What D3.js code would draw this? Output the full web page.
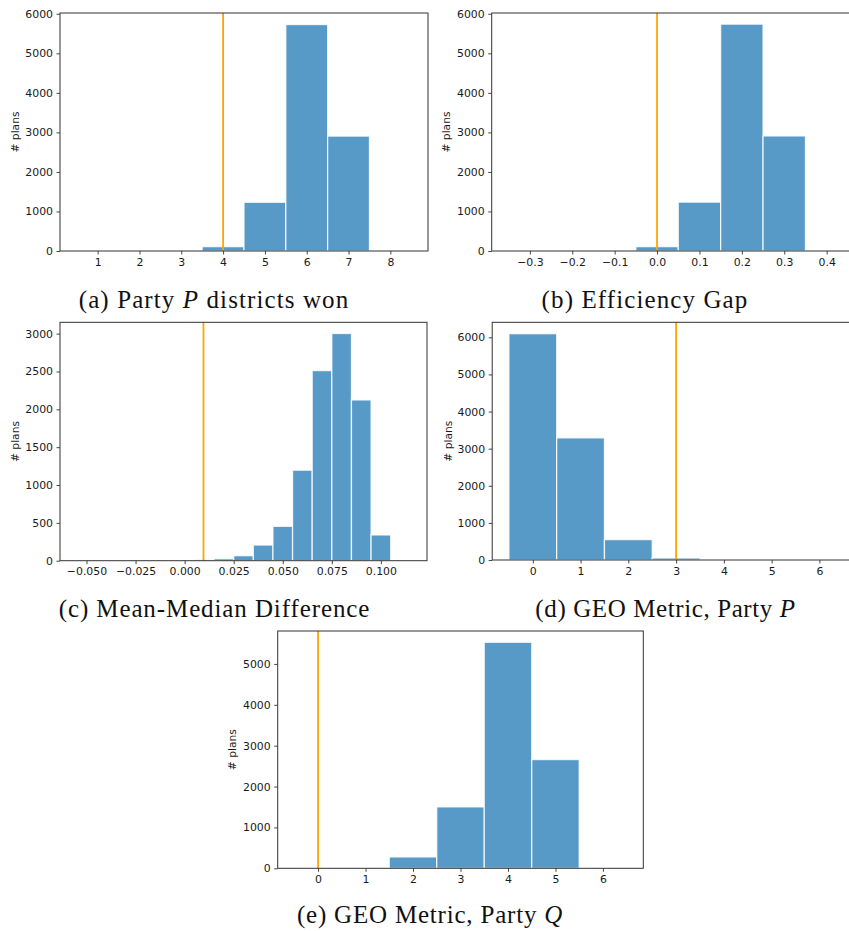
<!DOCTYPE html>
<html>
<head>
<meta charset="utf-8">
<script src="https://cdn.jsdelivr.net/npm/d3@7"></script>
<style>
  body { margin: 0; background: #fff; overflow: hidden; }
  svg { display: block; }
</style>
</head>
<body>
<div id="vis"></div>
<script>
// histogram values
var distBins = [1, 2, 3, 4, 5, 6, 7, 8];
var distCounts = [0, 0, 0, 110, 1232, 5728, 2906, 0];

var egBins = [-0.3, -0.2, -0.1, 0.0, 0.1, 0.2, 0.3, 0.4];
var egCounts = [0, 0, 0, 110, 1236, 5738, 2910, 0];

var mmBins = [-0.05, -0.04, -0.03, -0.02, -0.01, 0.00, 0.01, 0.02, 0.03, 0.04, 0.05, 0.06, 0.07, 0.08, 0.09, 0.10, 0.11];
var mmCounts = [0, 0, 0, 0, 0, 0, 13, 26, 66, 207, 454, 1196, 2512, 3002, 2124, 340, 0];

var geoPBins = [0, 1, 2, 3, 4, 5, 6];
var geoPCounts = [6098, 3290, 549, 54, 0, 0, 0];

var geoQBins = [0, 1, 2, 3, 4, 5, 6];
var geoQCounts = [0, 0, 278, 1502, 5530, 2660, 0];

var distTicks = [1, 2, 3, 4, 5, 6, 7, 8];
var egTicks = [-0.3, -0.2, -0.1, 0.0, 0.1, 0.2, 0.3, 0.4];
var mmTicks = [-0.05, -0.025, 0, 0.025, 0.05, 0.075, 0.1];
var geoTicks = [0, 1, 2, 3, 4, 5, 6];

var svg = d3.select("#vis").append("svg")
    .attr("width", 849)
    .attr("height", 931);

var minus = function(s) { return s.replace("-", "\u2212"); };

var panels = [
    { bins: distBins, counts: distCounts, binW: 1, ticks: distTicks, fmt: d3.format("d"),
      x0: 60, x1: 428, y0: 13, y1: 251, xdom: [0.1, 8.9], ymax: 6020, ystep: 1000,
      mark: 4, ylabX: 15,
      cap: ["(a) Party ", "P", " districts won"], capX: 214, capY: 308, ls: 1.1 },
    { bins: egBins, counts: egCounts, binW: 0.1, ticks: egTicks, fmt: d3.format(".1f"),
      x0: 491.7, x1: 864.8, y0: 13, y1: 251, xdom: [-0.39, 0.49], ymax: 6020, ystep: 1000,
      mark: 0, ylabX: 446,
      cap: ["(b) Efficiency Gap"], capX: 645, capY: 308, ls: 1.1 },
    { bins: mmBins, counts: mmCounts, binW: 0.01, ticks: mmTicks, fmt: d3.format(".3f"),
      x0: 60, x1: 427, y0: 322.3, y1: 560.7, xdom: [-0.0635, 0.1235], ymax: 3150, ystep: 500,
      mark: 0.0096, ylabX: 15,
      cap: ["(c) Mean-Median Difference"], capX: 214.5, capY: 617, ls: 0.9 },
    { bins: geoPBins, counts: geoPCounts, binW: 1, ticks: geoTicks, fmt: d3.format("d"),
      x0: 492.2, x1: 860, y0: 322.3, y1: 560, xdom: [-0.85, 6.85], ymax: 6405, ystep: 1000,
      mark: 3, ylabX: 448,
      cap: ["(d) GEO Metric, Party ", "P"], capX: 665.5, capY: 617, ls: 0.6 },
    { bins: geoQBins, counts: geoQCounts, binW: 1, ticks: geoTicks, fmt: d3.format("d"),
      x0: 277.7, x1: 643.3, y0: 631, y1: 868.3, xdom: [-0.85, 6.85], ymax: 5806, ystep: 1000,
      mark: 0, ylabX: 232,
      cap: ["(e) GEO Metric, Party ", "Q"], capX: 430, capY: 923, ls: 0.8 }
];

panels.forEach(function(p) {
    var x = d3.scaleLinear().domain(p.xdom).range([p.x0, p.x1]);
    var y = d3.scaleLinear().domain([0, p.ymax]).range([p.y1, p.y0]);
    var g = svg.append("g");

    var rows = p.bins.map(function(b, i) { return { c: b, n: p.counts[i] }; });

    g.selectAll("rect.bar")
        .data(rows)
        .enter().append("rect")
        .attr("class", "bar")
        .attr("x", function(d) { return x(d.c - p.binW / 2); })
        .attr("width", function(d) { return x(d.c + p.binW / 2) - x(d.c - p.binW / 2); })
        .attr("y", function(d) { return y(d.n); })
        .attr("height", function(d) { return y(0) - y(d.n); })
        .attr("fill", "#5799c7")
        .attr("stroke", "rgba(255,255,255,0.8)")
        .attr("stroke-width", 1.3);

    // observed value
    g.append("line")
        .attr("x1", x(p.mark)).attr("x2", x(p.mark))
        .attr("y1", p.y0).attr("y2", p.y1)
        .attr("stroke", "#ffa500")
        .attr("stroke-width", 1.8);

    var xAxis = g.append("g")
        .attr("transform", "translate(0," + p.y1 + ")")
        .call(d3.axisBottom(x).tickValues(p.ticks).tickSize(3.5).tickPadding(3.5)
            .tickFormat(function(d) { return minus(p.fmt(d)); }));
    var yAxis = g.append("g")
        .attr("transform", "translate(" + p.x0 + ",0)")
        .call(d3.axisLeft(y).tickValues(d3.range(0, p.ymax, p.ystep)).tickSize(3.5).tickPadding(3.5)
            .tickFormat(d3.format("d")));

    [xAxis, yAxis].forEach(function(a) {
        a.select(".domain").remove();
        a.selectAll("line").attr("stroke", "#333").attr("stroke-width", 0.9);
        a.selectAll("text")
            .attr("fill", "#1a1a1a")
            .style("font-family", "DejaVu Sans, sans-serif")
            .style("font-size", "10.9px");
    });

    g.append("rect")
        .attr("x", p.x0).attr("y", p.y0)
        .attr("width", p.x1 - p.x0).attr("height", p.y1 - p.y0)
        .attr("fill", "none")
        .attr("stroke", "#333")
        .attr("stroke-width", 1);

    g.append("text")
        .attr("transform", "translate(" + p.ylabX + "," + ((p.y0 + p.y1) / 2) + ")rotate(-90)")
        .attr("text-anchor", "middle")
        .attr("dominant-baseline", "central")
        .style("font-family", "DejaVu Sans, sans-serif")
        .style("font-size", "10.7px")
        .attr("fill", "#1a1a1a")
        .text("# plans");

    var cap = svg.append("text")
        .attr("x", p.capX).attr("y", p.capY)
        .attr("text-anchor", "middle")
        .style("font-family", "Liberation Serif, serif")
        .style("font-size", "25px")
        .style("letter-spacing", p.ls + "px")
        .attr("fill", "#111");
    p.cap.forEach(function(s, i) {
        cap.append("tspan").style("font-style", i % 2 ? "italic" : "normal").text(s);
    });
});
</script>
</body>
</html>
